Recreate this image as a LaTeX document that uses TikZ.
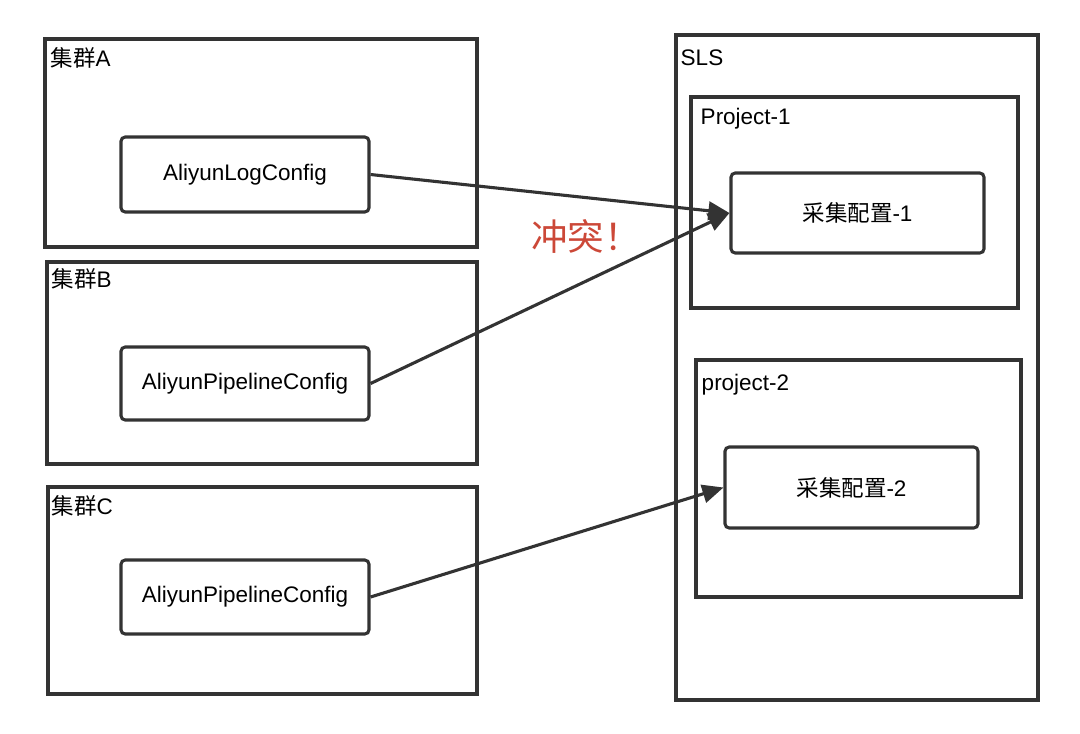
\documentclass[tikz,border=0pt]{standalone}
\usepackage{fontspec}
\setmainfont{Liberation Sans}
\newfontfamily\cjk{Noto Sans CJK SC}
\usepackage{xcolor}
\usepackage{tikz}
\usetikzlibrary{arrows.meta,positioning}
\definecolor{frame}{RGB}{51,51,51}
\definecolor{clash}{RGB}{204,72,56}

\begin{document}
\begin{tikzpicture}[
  group/.style={draw=frame, line width=2.2pt, inner sep=0pt},
  item/.style={draw=frame, line width=2.2pt, rounded corners=3pt, inner sep=0pt,
    font=\fontsize{16}{19}\selectfont},
  tag/.style={anchor=base west, inner sep=0pt, font=\fontsize{16}{19}\selectfont},
  link/.style={-{Triangle[length=15pt,width=13pt]}, line width=2.2pt, draw=frame}
]
\useasboundingbox[fill=white] (0,0) rectangle (27,-18.325);

% Clusters on the left.
\node[group, minimum width=10.8cm, minimum height=5.2cm] (ca) at (6.525,-3.575) {};
\node[group, minimum width=10.75cm, minimum height=5.05cm] (cb) at (6.55,-9.075) {};
\node[group, minimum width=10.725cm, minimum height=5.175cm] (cc) at (6.5625,-14.7625) {};

\node[tag] (ta) at ([shift={(0.175,-0.72)}]ca.north west) {{\cjk 集群}A};
\node[tag] (tb) at ([shift={(0.15,-0.67)}]cb.north west) {{\cjk 集群}B};
\node[tag] (tc) at ([shift={(0.125,-0.72)}]cc.north west) {{\cjk 集群}C};

\node[item, minimum width=6.2cm, minimum height=1.875cm] (cfga) at (6.125,-4.3625) {AliyunLogConfig};
\node[item, minimum width=6.2cm, minimum height=1.825cm] (cfgb) at (6.125,-9.5875) {AliyunPipelineConfig};
\node[item, minimum width=6.2cm, minimum height=1.85cm] (cfgc) at (6.125,-14.925) {AliyunPipelineConfig};

% SLS side.
\node[group, minimum width=9.05cm, minimum height=16.625cm] (sls) at (21.425,-9.1875) {};
\node[group, minimum width=8.175cm, minimum height=5.275cm] (p1) at (21.3625,-5.0625) {};
\node[group, minimum width=8.125cm, minimum height=5.925cm] (p2) at (21.4625,-11.9625) {};

\node[tag] (tsls) at ([shift={(0.15,-0.8)}]sls.north west) {SLS};
\node[tag] (tp1) at ([shift={(0.275,-0.72)}]p1.north west) {Project-1};
\node[tag] (tp2) at ([shift={(0.175,-0.8)}]p2.north west) {project-2};

\node[item, minimum width=6.325cm, minimum height=2.0cm] (col1) at (21.4375,-5.325) {{\cjk 采集配置}-1};
\node[item, minimum width=6.325cm, minimum height=2.025cm] (col2) at (21.2875,-12.1875) {{\cjk 采集配置}-2};

% Mappings.
\draw[link] (cfga.east) -- (col1.west);
\draw[link] (cfgb.east) -- (col1.west);
\draw[link] (cfgc.east) -- (col2.west);

\node[text=clash, font=\cjk\fontsize{26}{30}\selectfont] (warn) at (14.65,-5.9) {冲突！};

\end{tikzpicture}
\end{document}
